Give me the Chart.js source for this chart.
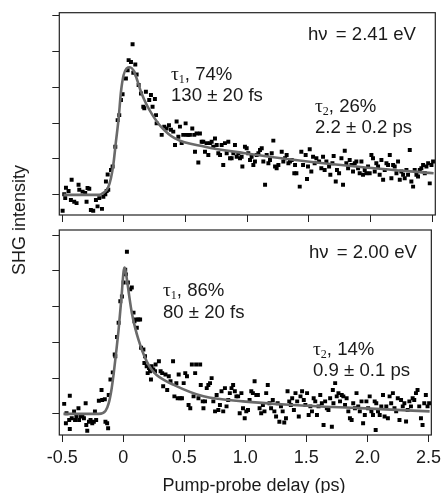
<!DOCTYPE html>
<html>
<head>
<meta charset="utf-8">
<script src="https://cdn.jsdelivr.net/npm/chart.js@4.4.0/dist/chart.umd.min.js"></script>
<style>
  body { margin: 0; background: #fff; }
  #wrap { position: relative; width: 446px; height: 493px; font-family: "Liberation Sans", Arial, sans-serif; color: #1a1a1a; }
  canvas { position: absolute; left: 0; }
  #cTop { top: 0; }
  #cBot { top: 226px; }
  .note { position: absolute; font-size: 18.6px; line-height: 18px; white-space: nowrap; }
  .nu { padding-right: 3px; }
  .tau { font-family: "Liberation Serif", "DejaVu Serif", serif; font-size: 19.5px; }
  .tau sub { font-size: 12px; vertical-align: -3px; line-height: 0; }
  #ytitle { position: absolute; left: 18.5px; top: 220px; font-size: 18px; line-height: 18px; white-space: nowrap;
            transform: translate(-50%, -50%) rotate(-90deg); }
  #xtitle { position: absolute; left: 254px; top: 475.8px; font-size: 18px; line-height: 18px; white-space: nowrap;
            transform: translateX(-50%); }
</style>
</head>
<body>
<div id="wrap">
  <canvas id="cTop" width="446" height="226"></canvas>
  <canvas id="cBot" width="446" height="267"></canvas>
  <div id="ytitle">SHG intensity</div>
  <div id="xtitle">Pump-probe delay (ps)</div>

  <div class="note" style="left:308px; top:24.6px">h<span class="nu">ν</span> = 2.41 eV</div>
  <div class="note" style="left:171px; top:64.6px"><span class="tau">τ<sub>1</sub></span>, 74%</div>
  <div class="note" style="left:171px; top:86.3px">130 ± 20 fs</div>
  <div class="note" style="left:315px; top:97.3px"><span class="tau">τ<sub>2</sub></span>, 26%</div>
  <div class="note" style="left:315px; top:117.9px">2.2 ± 0.2 ps</div>

  <div class="note" style="left:309px; top:242.9px">h<span class="nu">ν</span> = 2.00 eV</div>
  <div class="note" style="left:163px; top:281.3px"><span class="tau">τ<sub>1</sub></span>, 86%</div>
  <div class="note" style="left:163px; top:302.9px">80 ± 20 fs</div>
  <div class="note" style="left:313px; top:339.6px"><span class="tau">τ<sub>2</sub></span>, 14%</div>
  <div class="note" style="left:313px; top:361.3px">0.9 ± 0.1 ps</div>
</div>
<script>
// ===== 数据（延迟 ps, SHG 强度 任意单位）=====
const xTickLabels = ['-0.5', '0', '0.5', '1.0', '1.5', '2.0', '2.5'];

// hν = 2.41 eV 测量点
const topScan = [
  [-0.497,-0.44],[-0.484,0.02],[-0.476,-0.09],[-0.470,0.20],[-0.449,0.11],[-0.430,-0.14],[-0.424,0.42],
  [-0.403,-0.19],[-0.384,-0.23],[-0.368,0.28],[-0.362,0.14],[-0.335,0.09],[-0.314,0.05],[-0.303,-0.19],
  [-0.295,0.19],[-0.281,0.17],[-0.268,-0.42],[-0.249,-0.44],[-0.227,-0.14],[-0.214,-0.32],[-0.200,-0.09],
  [-0.178,-0.39],[-0.167,-0.05],[-0.151,0.02],[-0.146,0.37],[-0.140,0.11],[-0.132,0.57],[-0.127,0.14],
  [-0.105,0.69],[-0.092,0.79],[-0.070,1.34],[-0.051,2.08],[-0.038,2.22],[-0.024,2.64],[-0.011,2.80],
  [0.016,3.24],[0.030,3.47],[0.038,3.75],[0.057,3.70],[0.070,4.19],[0.076,3.40],[0.092,3.63],[0.103,3.35],
  [0.119,3.06],[0.138,2.82],[0.157,2.45],[0.165,2.41],[0.178,2.87],[0.205,2.64],[0.219,2.78],[0.232,2.45],
  [0.251,2.67],[0.260,2.22],
  [0.265,1.99],[0.306,1.67],[0.327,1.90],[0.346,1.85],[0.365,1.94],[0.381,1.81],[0.400,1.76],[0.414,1.39],
  [0.427,2.04],[0.441,1.62],[0.454,1.90],[0.468,1.44],[0.481,1.67],[0.500,1.99],[0.508,1.67],[0.522,1.67],
  [0.535,1.67],[0.554,1.85],[0.570,1.67],[0.576,1.20],[0.589,1.71],[0.603,0.90],[0.616,1.71],[0.630,1.48],
  [0.643,1.48],[0.657,1.20],[0.670,1.44],[0.684,1.11],[0.697,1.44],[0.711,1.48],[0.724,1.34],[0.738,1.57],
  [0.752,1.39],[0.765,1.16],[0.779,1.11],[0.792,1.39],[0.805,0.83],[0.819,1.44],[0.833,1.16],[0.846,1.48],
  [0.860,1.02],[0.873,1.02],[0.887,1.16],[0.900,1.39],[0.914,1.06],[0.927,1.16],[0.941,1.02],[0.954,1.06],
  [0.960,0.79],[0.981,1.34],[0.995,1.30],[1.008,1.16],[1.022,0.97],[1.035,1.06],[1.049,0.83],[1.062,0.93],
  [1.076,1.11],[1.090,1.16],[1.103,1.25],[1.117,1.30],[1.130,0.93],[1.144,0.28],[1.157,1.11],[1.171,0.88],
  [1.184,0.97],[1.198,1.16],[1.211,1.51],[1.225,0.79],[1.238,0.74],[1.252,0.83],[1.279,1.20],[1.292,0.93],
  [1.306,1.02],[1.319,1.11],[1.333,0.88],[1.346,0.93],[1.360,0.97],[1.381,0.60],[1.387,0.83],
  [1.398,0.60],[1.425,0.23],[1.438,1.20],[1.452,0.83],[1.473,1.11],[1.484,0.44],[1.492,0.79],[1.506,1.27],
  [1.519,0.65],[1.533,1.06],[1.546,0.88],[1.560,1.02],[1.582,0.93],[1.600,0.74],[1.614,1.06],[1.627,0.69],
  [1.641,0.93],[1.663,0.79],[1.673,0.56],[1.690,0.88],[1.700,1.08],[1.717,0.37],[1.727,0.69],[1.744,0.60],
  [1.763,1.02],[1.776,0.28],[1.790,1.23],[1.803,0.88],[1.817,0.74],[1.830,0.97],[1.844,0.83],[1.857,0.65],
  [1.871,0.88],[1.884,0.93],[1.898,0.74],[1.911,0.60],[1.925,0.93],[1.938,0.56],[1.952,0.69],[1.965,0.60],
  [1.979,0.79],[1.992,0.60],[2.006,1.11],[2.019,1.02],[2.033,0.65],[2.046,0.88],[2.060,0.79],[2.073,0.56],
  [2.087,0.97],[2.101,0.42],[2.114,0.69],[2.128,0.88],[2.141,0.83],[2.155,1.11],[2.168,0.46],[2.182,0.83],
  [2.195,0.79],[2.209,0.60],[2.222,0.93],[2.236,0.42],[2.249,0.65],[2.263,0.56],[2.276,0.46],[2.290,0.69],
  [2.303,0.56],[2.317,1.25],[2.330,0.37],[2.344,0.23],[2.357,0.69],[2.371,0.56],[2.384,0.51],[2.398,0.69],
  [2.411,0.74],[2.425,0.83],[2.439,0.60],[2.452,0.79],[2.466,0.88],[2.479,0.32],[2.493,0.83],[2.506,0.93]
];
// 双指数拟合曲线
const topFit = [
  [-0.49,0],[-0.20,0],[-0.17,0.05],[-0.13,0.19],[-0.105,0.47],[-0.086,0.84],[-0.065,1.48],[-0.043,2.13],
  [-0.024,2.87],[-0.003,3.33],[0.022,3.52],[0.049,3.55],[0.076,3.47],[0.103,3.24],[0.138,2.87],[0.178,2.55],
  [0.232,2.22],[0.30,1.90],[0.414,1.57],[0.657,1.34],[0.981,1.16],[1.39,0.97],[1.94,0.77],[2.51,0.60]
];

// hν = 2.00 eV 测量点
const botScan = [
  [-0.484,0.28],[-0.470,-0.26],[-0.465,0.02],[-0.443,-0.17],[-0.438,0.51],[-0.438,-0.42],[-0.422,-0.12],
  [-0.403,0.07],[-0.395,-0.17],[-0.384,-0.06],[-0.367,0.16],[-0.362,-0.17],[-0.349,-0.07],[-0.335,-0.03],
  [-0.322,-0.12],[-0.308,0.30],[-0.303,-0.31],[-0.295,-0.47],[-0.281,-0.22],[-0.268,-0.17],[-0.254,-0.26],
  [-0.241,-0.22],[-0.232,0.07],[-0.222,-0.17],[-0.200,0.37],[-0.178,0.67],[-0.173,0.39],[-0.151,0.41],
  [-0.146,-0.22],[-0.132,-0.26],[-0.124,-0.40],[-0.119,0.53],[-0.105,0.96],[-0.086,1.16],[-0.070,1.66],
  [-0.065,1.61],[-0.051,2.15],[-0.038,2.55],[-0.024,3.15],[-0.011,3.28],[0.003,3.67],[0.016,4.03],
  [0.022,3.90],[0.030,4.53],[0.038,3.67],[0.057,3.48],[0.070,3.53],[0.084,2.83],[0.092,2.59],[0.103,2.64],
  [0.111,2.41],[0.124,2.64],[0.138,2.64],[0.146,1.85],[0.165,1.80],[0.173,1.42],[0.178,1.61],[0.192,1.33],
  [0.200,1.14],[0.211,1.28],[0.219,1.19],[0.227,0.96],[0.232,1.33],[0.246,1.24],[0.260,1.19],
  [0.265,1.38],[0.292,1.47],[0.306,1.19],[0.319,1.14],[0.327,0.77],[0.346,1.10],[0.360,0.67],[0.373,1.05],
  [0.387,0.91],[0.408,1.47],[0.419,0.49],[0.435,0.86],[0.446,0.44],[0.454,1.10],[0.468,0.44],[0.481,0.44],
  [0.495,0.86],[0.508,1.14],[0.522,1.05],[0.535,0.25],[0.549,0.16],[0.562,1.38],[0.576,0.49],[0.589,1.14],
  [0.597,1.38],[0.616,0.44],[0.630,1.38],[0.635,0.81],[0.651,0.35],[0.657,0.16],[0.670,0.35],[0.684,0.72],
  [0.697,0.81],[0.711,0.86],[0.724,1.00],[0.738,0.35],[0.752,0.07],[0.765,0.53],[0.779,0.11],[0.792,0.25],
  [0.805,0.63],[0.819,0.07],[0.833,0.72],[0.846,0.21],[0.860,0.39],[0.873,0.58],[0.887,0.72],[0.900,0.81],
  [0.914,0.63],[0.927,0.49],[0.941,0.49],[0.954,0.02],[0.968,0.58],[0.981,0.16],[0.995,-0.12],[1.008,0.07],
  [1.022,0.11],[1.035,0.39],[1.049,0.63],[1.062,0.58],[1.076,0.91],[1.090,0.53],[1.103,0.53],[1.117,0.16],
  [1.130,0.02],[1.144,0.25],[1.157,0.07],[1.171,0.58],[1.184,0.81],[1.198,0.30],[1.211,0.16],[1.225,0.39],
  [1.238,0.07],[1.252,-0.07],[1.265,0.30],[1.279,-0.22],[1.292,0.21],[1.306,0.07],[1.319,-0.24],[1.333,-0.12],
  [1.346,0.63],[1.360,0.35],[1.373,0.25],[1.384,0.44],[1.398,0.11],[1.411,0.58],[1.425,0.35],[1.438,-0.07],
  [1.452,0.49],[1.465,0.63],[1.479,0.39],[1.492,0.25],[1.506,0.58],[1.519,-0.03],[1.533,0.21],[1.546,0.07],
  [1.560,0.44],[1.573,0.35],[1.587,-0.03],[1.600,0.21],[1.614,0.53],[1.627,0.30],[1.641,-0.31],[1.654,0.35],
  [1.668,0.16],[1.681,0.11],[1.695,0.44],[1.709,-0.36],[1.717,0.67],[1.722,0.30],[1.736,0.86],[1.749,0.49],
  [1.763,0.58],[1.776,0.35],[1.790,0.53],[1.803,0.49],[1.817,0.25],[1.830,0.44],[1.844,0.07],[1.857,-0.12],
  [1.871,-0.17],[1.884,0.30],[1.898,0.16],[1.911,0.58],[1.925,0.21],[1.938,0.07],[1.952,0.35],[1.965,-0.26],
  [1.979,-0.03],[1.992,0.35],[2.006,0.16],[2.019,0.49],[2.033,0.07],[2.046,-0.03],[2.060,0.35],[2.068,-0.45],
  [2.073,0.30],[2.087,0.07],[2.101,-0.03],[2.114,0.21],[2.128,0.53],[2.141,-0.07],[2.155,0.21],[2.168,-0.12],
  [2.182,0.49],[2.195,0.30],[2.209,0.58],[2.222,0.16],[2.236,0.07],[2.249,0.44],[2.263,-0.17],[2.276,0.39],
  [2.290,0.21],[2.303,0.30],[2.317,-0.21],[2.330,0.11],[2.344,0.35],[2.357,0.21],[2.371,0.44],[2.384,0.39],
  [2.398,0.58],[2.411,0.67],[2.425,0.21],[2.439,-0.12],[2.452,-0.31],[2.466,0.30],[2.479,0.53],[2.493,0.21],
  [2.506,0.30]
];
const botFit = [
  [-0.49,0],[-0.20,0],[-0.146,0.08],[-0.119,0.30],[-0.097,0.67],[-0.078,1.14],[-0.059,1.70],[-0.038,2.36],
  [-0.016,3.20],[0.003,3.99],[0.012,4.09],[0.030,3.76],[0.049,3.29],[0.070,2.83],[0.097,2.41],[0.124,2.08],
  [0.157,1.75],[0.192,1.47],[0.232,1.24],[0.273,1.09],[0.414,0.81],[0.657,0.49],[0.981,0.35],[1.39,0.25],
  [1.94,0.16],[2.51,0.07]
];

const FONT = '"Liberation Sans", Arial, sans-serif';
const INK = '#1a1a1a';

function toPts(arr) { return arr.map(p => ({ x: p[0], y: p[1] })); }

// 画四边框
const framePlugin = {
  id: 'frame',
  afterDatasetsDraw(chart) {
    const { ctx, chartArea: a } = chart;
    ctx.save();
    ctx.strokeStyle = '#222';
    ctx.lineWidth = 1.2;
    ctx.strokeRect(a.left, a.top, a.right - a.left, a.bottom - a.top);
    ctx.restore();
  }
};

function makePanel(canvasId, scan, fit, opt) {
  return new Chart(document.getElementById(canvasId), {
    type: 'scatter',
    data: {
      datasets: [{
        data: toPts(fit),
        showLine: true,
        pointRadius: 0,
        borderColor: '#6a6a6a',
        borderWidth: 2.6,
        cubicInterpolationMode: 'monotone'
      }, {
        data: toPts(scan),
        pointStyle: 'rect',
        pointRadius: 2.8,
        pointBorderWidth: 0,
        backgroundColor: '#000',
        borderWidth: 0
      }]
    },
    options: {
      responsive: false,
      animation: false,
      events: [],
      layout: { padding: { top: opt.padTop, right: 10.7, left: 0, bottom: 0 } },
      plugins: { legend: { display: false }, tooltip: { enabled: false } },
      scales: {
        x: {
          type: 'linear', min: -0.524, max: 2.524,
          ticks: {
            stepSize: 0.5, includeBounds: false, display: opt.xLabels, padding: 5,
            color: INK, font: { family: FONT, size: 18 },
            callback: v => xTickLabels[Math.round((v + 0.5) / 0.5)]
          },
          grid: { drawOnChartArea: false, tickLength: 7, tickColor: '#222', tickWidth: 1 },
          border: { display: false },
          afterFit: s => { s.height = opt.xHeight; }
        },
        y: {
          min: opt.yMin, max: opt.yMax,
          ticks: { stepSize: 1, includeBounds: false, display: false },
          grid: { drawOnChartArea: false, tickLength: 7, tickColor: '#222', tickWidth: 1 },
          border: { display: false },
          afterFit: s => { s.width = 59.3; }
        }
      }
    },
    plugins: [framePlugin]
  });
}

makePanel('cTop', topScan, topFit, { padTop: 12.7, xHeight: 11, xLabels: false, yMin: -0.56, yMax: 5.07 });
makePanel('cBot', botScan, botFit, { padTop: 4, xHeight: 58, xLabels: true, yMin: -0.59, yMax: 5.14 });
</script>
</body>
</html>
